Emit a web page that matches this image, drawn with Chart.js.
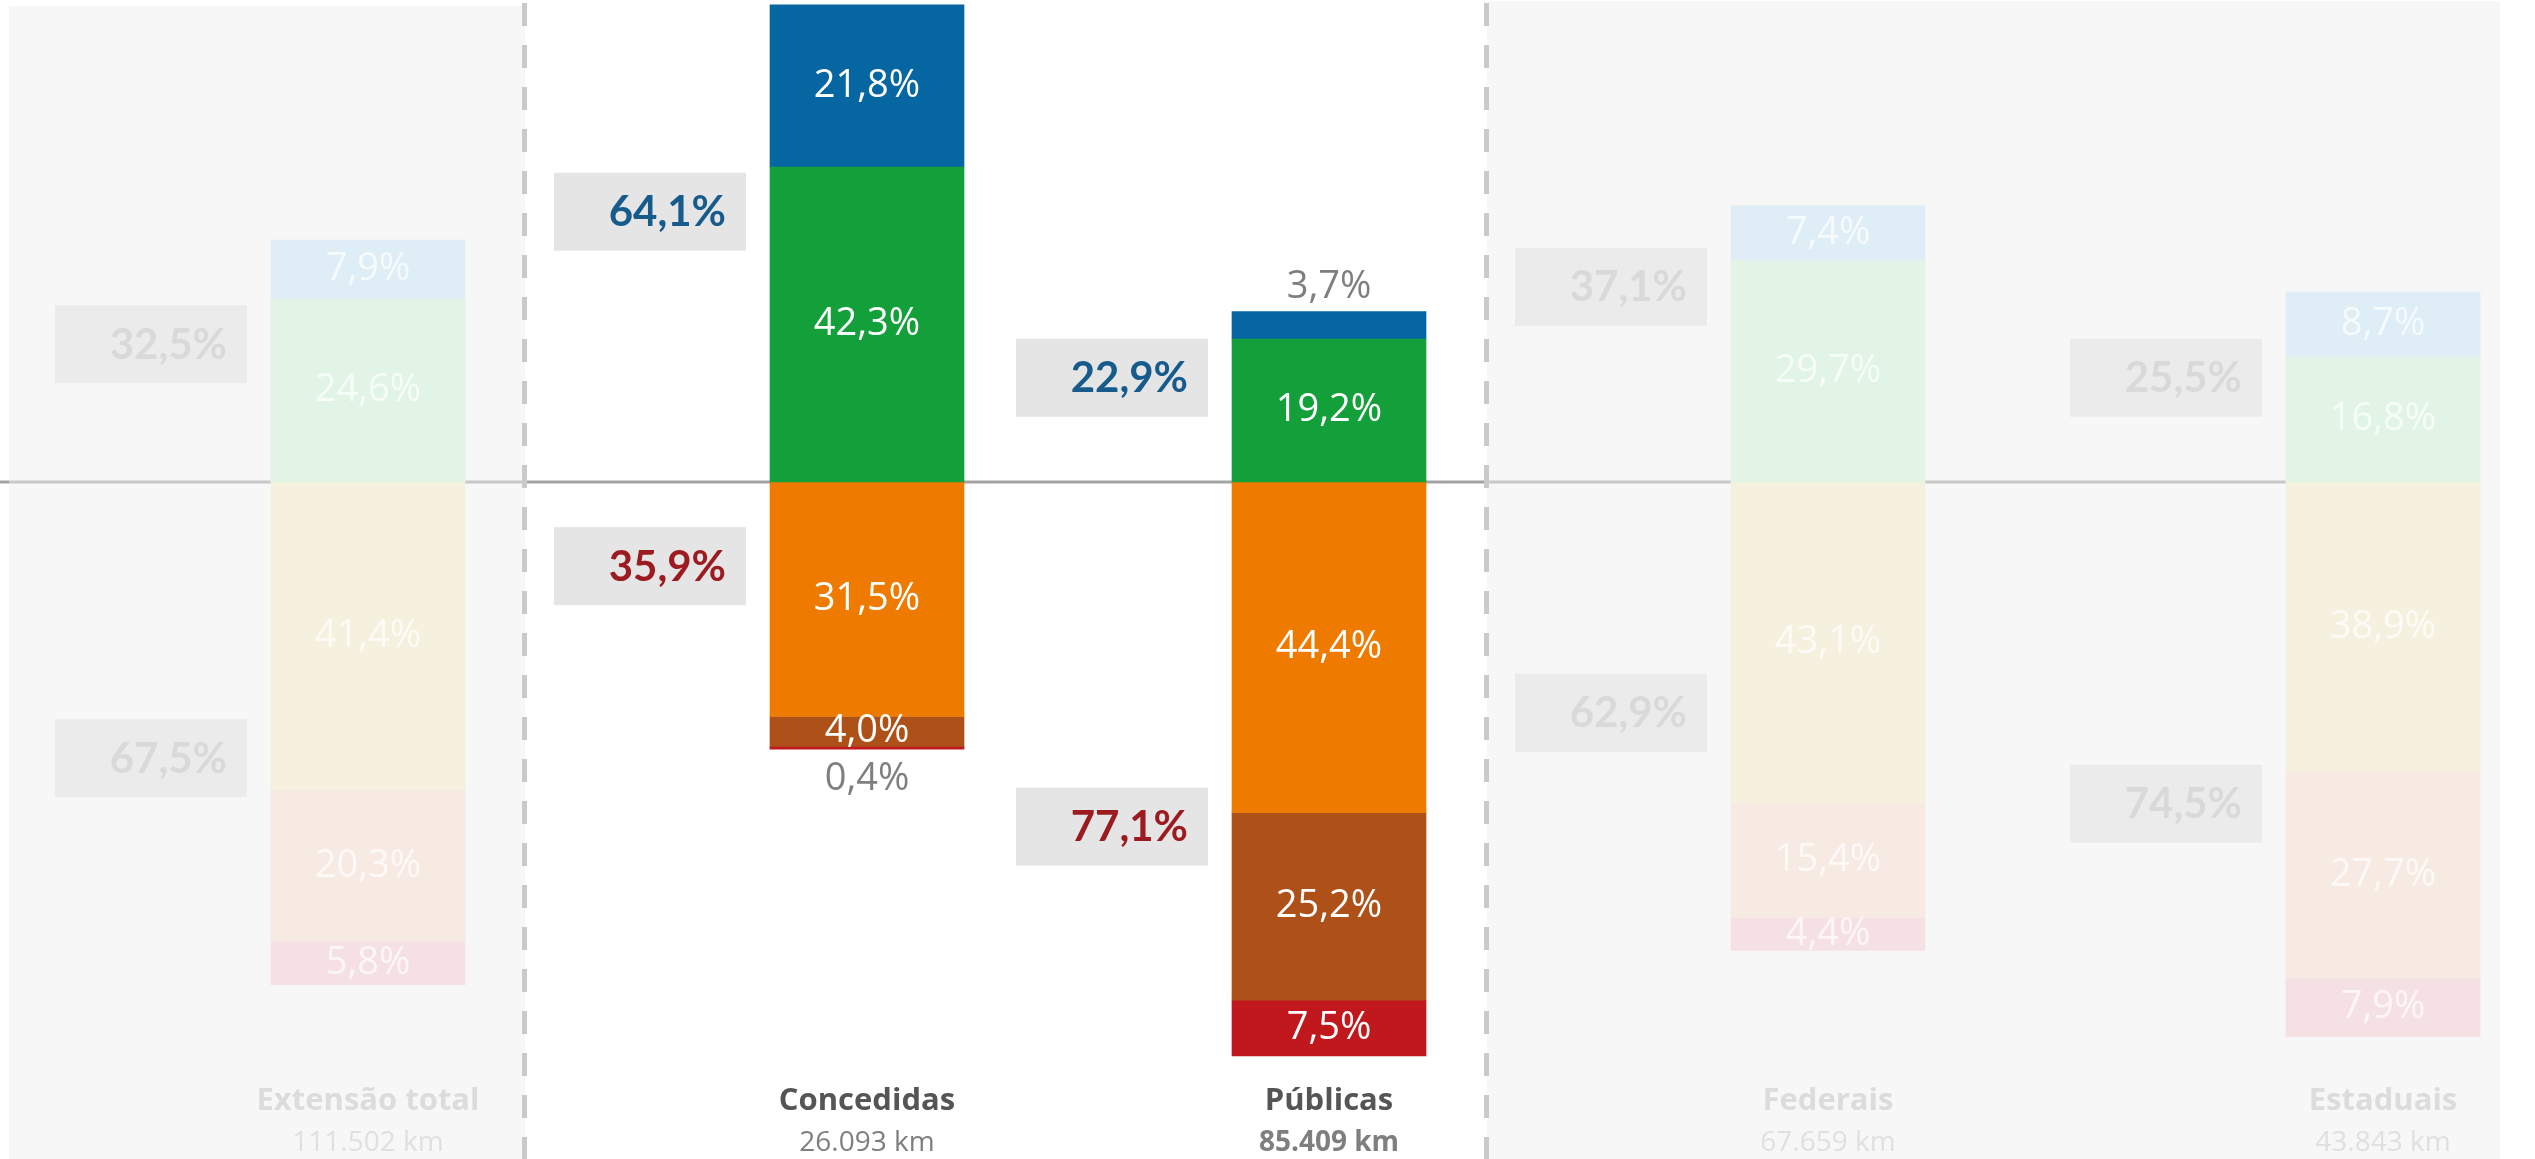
<!DOCTYPE html>
<html>
<head>
<meta charset="utf-8">
<script src="https://cdn.jsdelivr.net/npm/chart.js@4.4.1/dist/chart.umd.min.js"></script>
<style>
  html, body { margin: 0; padding: 0; background: #ffffff; }
  #wrap { position: relative; width: 2535px; height: 1159px; }
</style>
</head>
<body>
<div id="wrap"><canvas id="chart"></canvas></div>
<script>
// ---------------- DATA ----------------
const categories   = ['Extensão total', 'Concedidas', 'Públicas', 'Federais', 'Estaduais'];
const extensionKm  = ['111.502 km', '26.093 km', '85.409 km', '67.659 km', '43.843 km'];
const otimo        = [7.9, 21.8, 3.7, 7.4, 8.7];
const bom          = [24.6, 42.3, 19.2, 29.7, 16.8];
const regular      = [41.4, 31.5, 44.4, 43.1, 38.9];
const ruim         = [20.3, 4.0, 25.2, 15.4, 27.7];
const pessimo      = [5.8, 0.4, 7.5, 4.4, 7.9];
const positiveTotal = ['32,5%', '64,1%', '22,9%', '37,1%', '25,5%'];
const negativeTotal = ['67,5%', '35,9%', '77,1%', '62,9%', '74,5%'];

// ---------------- LAYOUT / STYLE ----------------
const LAYOUT = {
  xMin: 0, xMax: 2535,
  yMin: -90.93, yMax: 64.74,
  barCenters: [368, 867, 1329, 1828, 2383],
  barWidth: 194,
  posBoxAt: [18.5, 36.3, 14.0, 26.2, 14.0],
  negBoxAt: [-37.1, -11.3, -46.3, -31.0, -43.2],
  boxW: 192, boxH: 78, boxGap: 24,
  highlighted: [false, true, true, false, false],
  kmBold: [false, false, true, false, false],
  panels: [ { from: 9, to: 525, top: 6 }, { from: 1487, to: 2500, top: 1 } ],
  separators: [524.5, 1486.5],
  insideMin: 3.9,
  catY: 1101, kmY: 1143
};
const COLORS = {
  active: ['#13a03a', '#0566a2', '#ee7b00', '#ad5118', '#c0181c'],
  faded:  ['#e1f4e6', '#deedf6', '#f6f0df', '#f6eae3', '#f5e1e3'],
  posText: '#175b8c', negText: '#9b1b21'
};

const series = [
  { name: 'Bom',     values: bom,     sign: 1 },
  { name: 'Ótimo',   values: otimo,   sign: 1 },
  { name: 'Regular', values: regular, sign: -1 },
  { name: 'Ruim',    values: ruim,    sign: -1 },
  { name: 'Péssimo', values: pessimo, sign: -1 }
];

const fmt = v => v.toFixed(1).replace('.', ',') + '%';

const datasets = series.map((s, k) => ({
  label: s.name,
  data: s.values.map((v, i) => ({ x: LAYOUT.barCenters[i], y: s.sign * v })),
  backgroundColor: ctx => LAYOUT.highlighted[ctx.dataIndex] ? COLORS.active[k] : COLORS.faded[k],
  barThickness: LAYOUT.barWidth,
  borderWidth: 0
}));

const backgroundPlugin = {
  id: 'backgroundPlugin',
  beforeDraw(chart) {
    const { ctx } = chart;
    const xs = chart.scales.x, ys = chart.scales.y;
    ctx.save();
    ctx.fillStyle = '#ffffff';
    ctx.fillRect(0, 0, chart.width, chart.height);
    ctx.fillStyle = '#f7f7f7';
    LAYOUT.panels.forEach(p => {
      const a = xs.getPixelForValue(p.from), b = xs.getPixelForValue(p.to);
      ctx.fillRect(a, p.top, b - a, chart.height - p.top);
    });
    // zero line
    const y0 = ys.getPixelForValue(0);
    const endX = xs.getPixelForValue(LAYOUT.barCenters[4]);
    const segs = [
      [0, xs.getPixelForValue(LAYOUT.panels[0].from), '#a3a3a3'],
      [xs.getPixelForValue(LAYOUT.panels[0].from), xs.getPixelForValue(LAYOUT.panels[0].to), '#c8c8c8'],
      [xs.getPixelForValue(LAYOUT.panels[0].to), xs.getPixelForValue(LAYOUT.panels[1].from), '#a3a3a3'],
      [xs.getPixelForValue(LAYOUT.panels[1].from), endX, '#c8c8c8']
    ];
    ctx.lineWidth = 3;
    segs.forEach(([a, b, c]) => {
      ctx.strokeStyle = c;
      ctx.beginPath(); ctx.moveTo(a, y0); ctx.lineTo(b, y0); ctx.stroke();
    });
    // dashed separators
    ctx.setLineDash([23, 19]);
    ctx.lineWidth = 5;
    ctx.strokeStyle = '#cacaca';
    LAYOUT.separators.forEach(s => {
      const px = xs.getPixelForValue(s);
      ctx.beginPath(); ctx.moveTo(px, 3); ctx.lineTo(px, chart.height); ctx.stroke();
    });
    ctx.restore();
  }
};

const labelPlugin = {
  id: 'labelPlugin',
  afterDatasetsDraw(chart) {
    const { ctx } = chart;
    const ys = chart.scales.y;
    ctx.save();
    // segment labels
    ctx.textAlign = 'center';
    ctx.textBaseline = 'middle';
    series.forEach((s, k) => {
      const meta = chart.getDatasetMeta(k);
      meta.data.forEach((el, i) => {
        const v = s.values[i];
        const hl = LAYOUT.highlighted[i];
        const p = el.getProps(['x', 'y', 'base'], true);
        const top = Math.min(p.y, p.base), bot = Math.max(p.y, p.base);
        let ty, color;
        if (v < LAYOUT.insideMin) {
          ty = s.sign > 0 ? top - 24 : bot + 30;
          color = hl ? '#7f7f7f' : '#dddddd';
        } else {
          ty = (top + bot) / 2;
          color = hl ? '#ffffff' : 'rgba(255,255,255,0.7)';
        }
        ctx.font = '38px "Open Sans"';
        ctx.fillStyle = color;
        ctx.fillText(fmt(v), p.x, ty);
      });
    });
    // total boxes and category labels
    const meta0 = chart.getDatasetMeta(0);
    categories.forEach((c, i) => {
      const hl = LAYOUT.highlighted[i];
      const el = meta0.data[i];
      const p = el.getProps(['x', 'width'], true);
      const right = p.x - p.width / 2 - LAYOUT.boxGap;
      const left = right - LAYOUT.boxW;
      [[LAYOUT.posBoxAt[i], positiveTotal[i], COLORS.posText],
       [LAYOUT.negBoxAt[i], negativeTotal[i], COLORS.negText]].forEach(([at, txt, col]) => {
        const cy = ys.getPixelForValue(at);
        ctx.fillStyle = hl ? '#e5e5e5' : '#ebebeb';
        ctx.fillRect(left, cy - LAYOUT.boxH / 2, LAYOUT.boxW, LAYOUT.boxH);
        ctx.fillStyle = hl ? col : '#d9d9d9';
        ctx.font = 'bold 42px Lato';
        ctx.textAlign = 'right';
        ctx.textBaseline = 'middle';
        ctx.fillText(txt, right - 20, cy + 1);
      });
      ctx.textAlign = 'center';
      ctx.textBaseline = 'middle';
      ctx.font = 'bold 31px "Open Sans"';
      ctx.fillStyle = hl ? '#555555' : '#dcdcdc';
      ctx.fillText(c, p.x, LAYOUT.catY);
      ctx.font = (LAYOUT.kmBold[i] ? 'bold ' : '') + '28px "Open Sans"';
      ctx.fillStyle = hl ? '#7f7f7f' : '#e0e0e0';
      ctx.fillText(extensionKm[i], p.x, LAYOUT.kmY);
    });
    ctx.restore();
  }
};

new Chart(document.getElementById('chart'), {
  type: 'bar',
  data: { datasets },
  options: {
    responsive: true,
    maintainAspectRatio: false,
    animation: false,
    layout: { padding: 0 },
    plugins: { legend: { display: false }, tooltip: { enabled: false } },
    scales: {
      x: { type: 'linear', min: LAYOUT.xMin, max: LAYOUT.xMax, stacked: true, offset: false, display: false },
      y: { type: 'linear', min: LAYOUT.yMin, max: LAYOUT.yMax, stacked: true, display: false }
    }
  },
  plugins: [backgroundPlugin, labelPlugin]
});
</script>
</body>
</html>
